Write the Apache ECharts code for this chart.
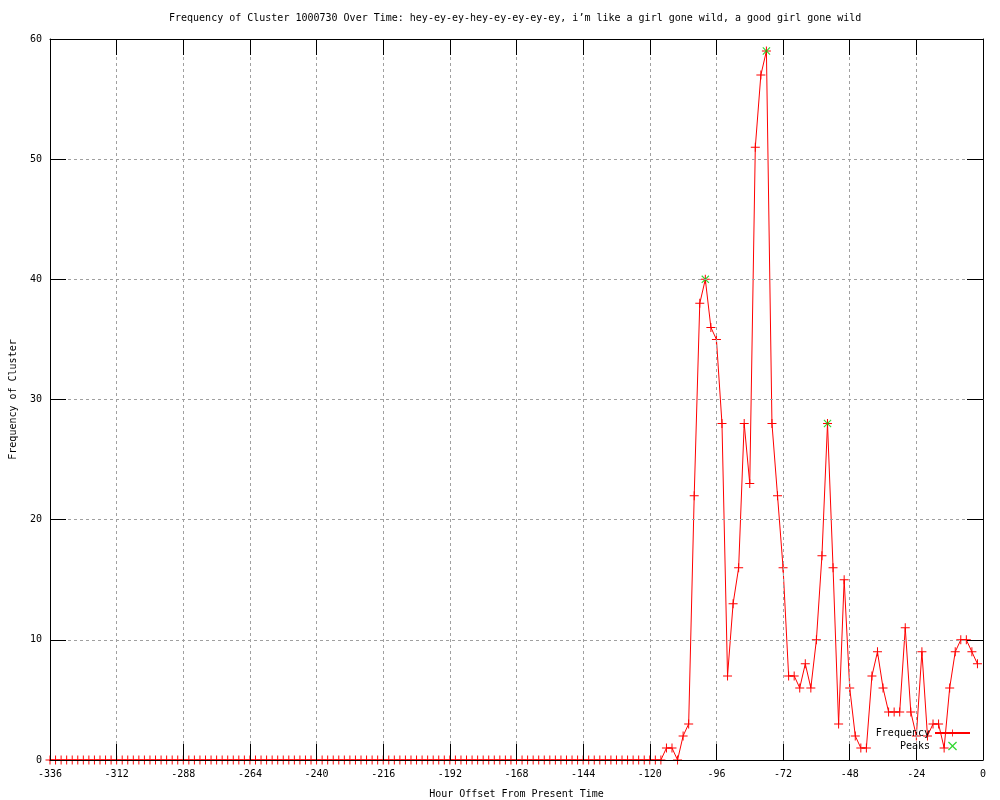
<!DOCTYPE html>
<html>
<head>
<meta charset="utf-8">
<script src="https://cdn.jsdelivr.net/npm/echarts@6/dist/echarts.min.js"></script>
<style>
html,body{margin:0;padding:0;background:#fff;}
#chart{width:1000px;height:800px;}
</style>
</head>
<body>
<div id="chart"></div>
<script>
// Hours (every 2 h from -336 to -2)
var hours = [];
for (var h = -336; h <= -2; h += 2) hours.push(h);

// Frequency values, one per hour entry above
var frequency = [
  0,0,0,0,0,0,0,0,0,0, 0,0,0,0,0,0,0,0,0,0,
  0,0,0,0,0,0,0,0,0,0, 0,0,0,0,0,0,0,0,0,0,
  0,0,0,0,0,0,0,0,0,0, 0,0,0,0,0,0,0,0,0,0,
  0,0,0,0,0,0,0,0,0,0, 0,0,0,0,0,0,0,0,0,0,
  0,0,0,0,0,0,0,0,0,0, 0,0,0,0,0,0,0,0,0,0,
  0,0,0,0,0,0,0,0,0,0, 0,
  1,1,0,2,3, 22,38,40,36,35, 28,7,13,16,28, 23,51,57,59,28,
  22,16,7,7,6, 8,6,10,17,28, 16,3,15,6,2, 1,1,7,9,6,
  4,4,4,11,4, 2,9,2,3,3, 1,6,9,10,10, 9,8
];

var peakHours = [-100, -78, -56];
var peakValues = [40, 59, 28];

var xTicks = [-336,-312,-288,-264,-240,-216,-192,-168,-144,-120,-96,-72,-48,-24,0];
var yTicks = [0,10,20,30,40,50,60];

var freqData = hours.map(function (h, i) { return [h, frequency[i]]; });
var peakData = peakHours.map(function (h, i) { return [h, peakValues[i]]; });

var FONT = 'DejaVu Sans Mono';
var PLUS = 'path://M-0.11,-1H0.11V-0.11H1V0.11H0.11V1H-0.11V0.11H-1V-0.11H-0.11Z';
var CROSS = 'path://M0.629,-0.785L0.785,-0.629L0.156,0L0.785,0.629L0.629,0.785L0,0.156L-0.629,0.785L-0.785,0.629L-0.156,0L-0.785,-0.629L-0.629,-0.785L0,-0.156Z';

var chart = echarts.init(document.getElementById('chart'), null, {renderer: 'canvas'});
var baseAxisLine = {show: true, onZero: false, lineStyle: {color: '#000', width: 1}};
var tick = {show: true, inside: true, length: 16, lineStyle: {color: '#000', width: 1}};
var txt = {fontFamily: FONT, fontSize: 10, color: '#000'};

chart.setOption({
  animation: false,
  backgroundColor: '#fff',
  textStyle: {fontFamily: FONT},
  title: {
    text: 'Frequency of Cluster 1000730 Over Time: hey-ey-ey-hey-ey-ey-ey-ey, i\u2019m like a girl gone wild, a good girl gone wild',
    left: 169, top: 13, padding: 0,
    textStyle: {fontFamily: FONT, fontSize: 10, fontWeight: 'normal', color: '#000'}
  },
  grid: {left: 50, right: 17, top: 39, bottom: 40, containLabel: false, outerBoundsMode: 'none'},
  legend: [
    {data: ['Frequency'], right: 29, top: 728, itemWidth: 35, itemHeight: 9, itemGap: 0,
     textStyle: txt, align: 'right', padding: 0},
    {data: ['Peaks'], right: 43, top: 741, itemWidth: 35, itemHeight: 9, itemGap: 0,
     textStyle: txt, align: 'right', padding: 0}
  ],
  xAxis: [
    {type: 'value', min: -336, max: 0, interval: 24, position: 'bottom', z: 5,
     name: 'Hour Offset From Present Time', nameLocation: 'middle', nameGap: 29,
     nameTextStyle: txt,
     axisLine: baseAxisLine, axisTick: tick,
     axisLabel: {fontFamily: FONT, fontSize: 10, color: '#000', margin: 9},
     splitLine: {show: true, lineStyle: {color: '#a0a0a0', type: [3, 3], width: 1}}},
    {type: 'value', min: -336, max: 0, interval: 24, position: 'top', z: 5,
     axisLine: baseAxisLine, axisTick: tick,
     axisLabel: {show: false}, splitLine: {show: false}}
  ],
  yAxis: [
    {type: 'value', min: 0, max: 60, interval: 10, position: 'left', z: 5,
     name: 'Frequency of Cluster', nameLocation: 'middle', nameGap: 32,
     nameTextStyle: txt,
     axisLine: baseAxisLine, axisTick: tick,
     axisLabel: {fontFamily: FONT, fontSize: 10, color: '#000', margin: 8},
     splitLine: {show: true, lineStyle: {color: '#a0a0a0', type: [3, 3], width: 1}}},
    {type: 'value', min: 0, max: 60, interval: 10, position: 'right', z: 5,
     axisLine: baseAxisLine, axisTick: tick,
     axisLabel: {show: false}, splitLine: {show: false}}
  ],
  series: [
    {name: 'Frequency', type: 'line', data: freqData, xAxisIndex: 0, yAxisIndex: 0,
     symbol: PLUS, symbolSize: 9, showAllSymbol: true, smooth: false,
     lineStyle: {color: '#ff0000', width: 1},
     itemStyle: {color: '#ff0000', borderWidth: 0}, z: 2},
    {name: 'Peaks', type: 'scatter', data: peakData, xAxisIndex: 0, yAxisIndex: 0,
     symbol: CROSS, symbolSize: 8,
     itemStyle: {color: '#00cc00', borderWidth: 0}, z: 3}
  ]
});
</script>
</body>
</html>
